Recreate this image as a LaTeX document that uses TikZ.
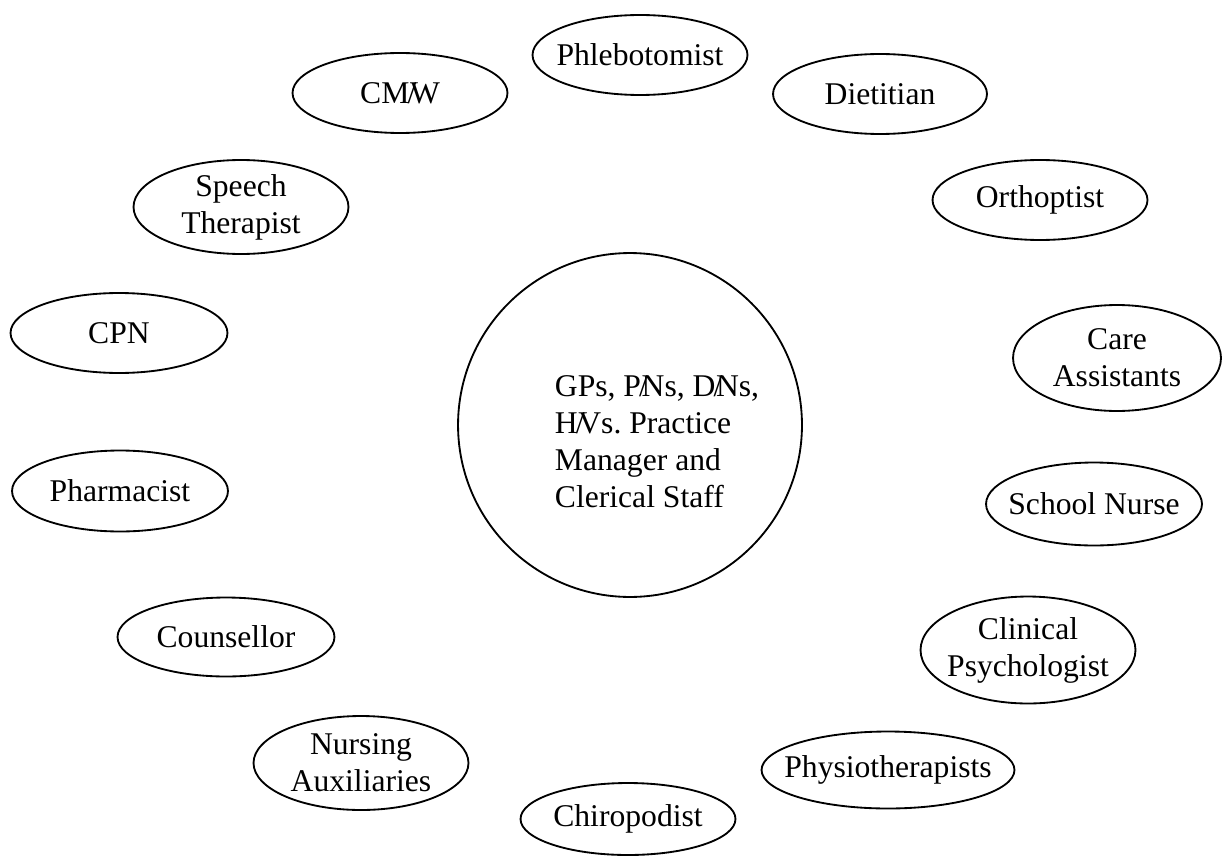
\documentclass[tikz,border=0pt]{standalone}
\usepackage{fontspec}
\setmainfont{Liberation Serif}
\usetikzlibrary{shapes.geometric}

\newcommand{\thinslash}{\kern-0.06em/\kern-0.2em}

\tikzset{
    member/.style 2 args={ellipse, draw, line width=1.05pt, minimum width=#1,
        minimum height=#2, inner sep=-12pt, align=center,
        font=\fontsize{18}{21}\selectfont},
    core/.style={circle, draw, line width=1.05pt, minimum size=6.88cm},
    coretext/.style={align=left, inner sep=0pt, font=\fontsize{18}{21}\selectfont},
}

\begin{document}
\begin{tikzpicture}[x=0.02cm, y=-0.02cm]

        \useasboundingbox (0,0) rectangle (1222,858);

        \node[core] (team) at (630,425) {};
        \node[coretext] (teamtext) at (657,442)
            {GPs, P\thinslash Ns, D\thinslash Ns,\\ H\thinslash Vs.\ Practice\\ Manager and\\ Clerical Staff};

        \node[member={4.3cm}{1.6cm}] (phleb) at (640,55) {Phlebotomist};
        \node[member={4.3cm}{1.6cm}] (cmw) at (400,93) {CM\thinslash W};
        \node[member={4.28cm}{1.6cm}] (diet) at (880,94) {Dietitian};
        \node[member={4.3cm}{1.6cm}] (ortho) at (1040,200) {Orthoptist};
        \node[member={4.3cm}{1.88cm}] (speech) at (241,207) {Speech\\ Therapist};
        \node[member={4.34cm}{1.6cm}] (cpn) at (119,333) {CPN};
        \node[member={4.16cm}{2.12cm}] (care) at (1117,358) {Care\\ Assistants};
        \node[member={4.32cm}{1.62cm}] (pharm) at (120,491) {Pharmacist};
        \node[member={4.32cm}{1.66cm}] (school) at (1094,504) {School Nurse};
        \node[member={4.34cm}{1.58cm}] (couns) at (226,637) {Counsellor};
        \node[member={4.3cm}{2.14cm}] (clin) at (1028,650) {Clinical\\ Psychologist};
        \node[member={4.3cm}{1.88cm}] (nurse) at (361,763) {Nursing\\ Auxiliaries};
        \node[member={5.06cm}{1.54cm}] (physio) at (888,770) {Physiotherapists};
        \node[member={4.3cm}{1.44cm}] (chiro) at (628,819) {Chiropodist};

\end{tikzpicture}
\end{document}
